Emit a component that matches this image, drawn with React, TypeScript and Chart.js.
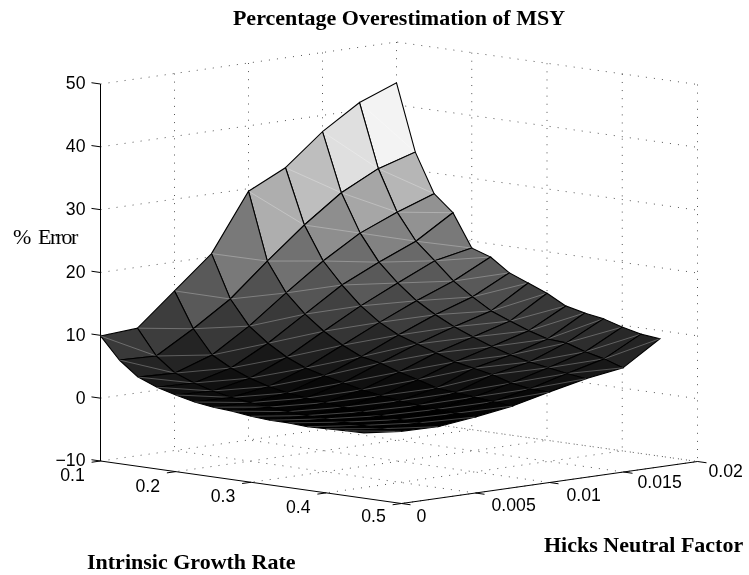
import React, { useEffect, useRef } from "react";
import { Chart, registerables } from "chart.js";

Chart.register(...registerables);

// Surface samples
const growthRates = [0.1, 0.125, 0.15, 0.175, 0.2, 0.225, 0.25, 0.275, 0.3, 0.325, 0.35, 0.375, 0.4, 0.425, 0.45];
const hicksFactors = [0, 0.0025, 0.005, 0.0075, 0.01, 0.0125, 0.015, 0.0175, 0.02];
const errorPct = [
  [9.9, 10.3, 15.4, 20.5, 29.6, 32.5, 37.4, 41.2, 43.5],
  [6.5, 6.3, 9.8, 13.7, 18.9, 23.8, 28.1, 31.1, 32.9],
  [4.2, 4.0, 6.05, 9.8, 14.25, 18.5, 22.1, 24.6, 26.7],
  [3.0, 2.85, 4.4, 7.5, 11.3, 15.1, 17.9, 20.4, 24.1],
  [2.2, 2.0, 3.2, 5.7, 9.0, 12.2, 15.0, 17.7, 18.9],
  [1.5, 1.4, 2.3, 4.4, 7.2, 10.0, 12.6, 14.9, 17.9],
  [1.1, 1.0, 1.7, 3.6, 5.8, 8.4, 10.8, 12.8, 15.8],
  [0.9, 0.7, 1.3, 2.9, 5.2, 7.4, 9.3, 11.0, 14.6],
  [0.5, 0.4, 1.0, 2.2, 4.2, 6.4, 8.1, 9.8, 13.4],
  [0.3, 0.2, 0.7, 1.7, 3.4, 5.4, 7.0, 8.7, 11.8],
  [0.3, 0.1, 0.4, 1.3, 2.5, 4.8, 6.1, 7.8, 11.1],
  [0.1, 0.0, 0.2, 1.0, 2.2, 4.2, 5.4, 7.6, 10.6],
  [0.2, -0.1, 0.0, 0.8, 1.9, 3.3, 4.9, 6.6, 9.7],
  [0.3, -0.2, -0.1, 0.6, 1.6, 2.8, 4.4, 5.9, 9.0],
  [0.4, -0.2, -0.3, 0.4, 1.3, 2.7, 4.0, 4.9, 8.7],
];

// Axis ticks
const growthTicks = [0.1, 0.2, 0.3, 0.4, 0.5];
const hicksTicks = [0, 0.005, 0.01, 0.015, 0.02];
const errorTicks = [-10, 0, 10, 20, 30, 40, 50];
const growthTickLabels = ["0.1", "0.2", "0.3", "0.4", "0.5"];
const hicksTickLabels = ["0", "0.005", "0.01", "0.015", "0.02"];
const errorTickLabels = ["\u221210", "0", "10", "20", "30", "40", "50"];

const titleText = "Percentage Overestimation of MSY";
const zLabel = "% Error";
const growthLabel = "Intrinsic Growth Rate";
const hicksLabel = "Hicks Neutral Factor";

// Orthographic view of the 3D box, expressed in canvas-sized scale units
const project = (r: number, h: number, z: number) => {
  const u = (r - 0.1) / 0.4;
  const v = h / 0.02;
  const w = (z + 10) / 60;
  return { x: 100.5 + 301 * u + 296 * v, y: 461 + 42.5 * u - 42 * v - 377 * w };
};

const polyline = (points: { x: number; y: number }[], style: Record<string, unknown>) => ({
  type: "scatter",
  showLine: true,
  data: points,
  pointRadius: 0,
  pointHoverRadius: 0,
  tension: 0,
  fill: false,
  ...style,
});

const dotted = { borderColor: "rgba(0,0,0,0.85)", borderWidth: 0.8, borderDash: [1, 7.1] };
const solid = { borderColor: "#000", borderWidth: 1 };

function buildDatasets() {
  const out: any[] = [];
  const rMin = growthTicks[0];
  const rMax = growthTicks[growthTicks.length - 1];
  const hMin = hicksTicks[0];
  const hMax = hicksTicks[hicksTicks.length - 1];
  const zMin = errorTicks[0];
  const zMax = errorTicks[errorTicks.length - 1];

  // wall and floor grid
  errorTicks.forEach((z) => {
    out.push(polyline([project(rMin, hMin, z), project(rMin, hMax, z), project(rMax, hMax, z)], dotted));
  });
  hicksTicks.slice(1).forEach((h) => {
    out.push(polyline([project(rMin, h, zMax), project(rMin, h, zMin), project(rMax, h, zMin)], dotted));
  });
  growthTicks.slice(1).forEach((r) => {
    out.push(polyline([project(r, hMax, zMax), project(r, hMax, zMin), project(r, hMin, zMin)], dotted));
  });

  // axes and ticks
  out.push(polyline([project(rMin, hMin, zMax), project(rMin, hMin, zMin)], solid));
  out.push(polyline([project(rMin, hMin, zMin), project(rMax, hMin, zMin), project(rMax, hMax, zMin)], solid));
  errorTicks.forEach((z) => {
    out.push(polyline([project(rMin, hMin, z), project(rMin - 0.012, hMin, z)], solid));
  });
  growthTicks.forEach((r) => {
    out.push(polyline([project(r, hMin, zMin), project(r, hMin - 0.0006, zMin)], solid));
  });
  hicksTicks.forEach((h) => {
    out.push(polyline([project(rMax, h, zMin), project(rMax + 0.012, h, zMin)], solid));
  });

  // surface, far cells first
  const all = errorPct.flat();
  const lo = Math.min(...all);
  const hi = Math.max(...all);
  for (let i = 0; i < growthRates.length - 1; i++) {
    for (let j = hicksFactors.length - 2; j >= 0; j--) {
      const p = (a: number, b: number) => project(growthRates[a], hicksFactors[b], errorPct[a][b]);
      const level = Math.min(63, Math.floor(((errorPct[i][j] - lo) / (hi - lo)) * 64));
      const g = Math.round((level / 63) * 255);
      const c = `rgb(${g},${g},${g})`;
      const a = p(i, j);
      out.push(
        polyline([a, p(i + 1, j), p(i + 1, j + 1), p(i, j + 1), a], {
          borderColor: "#000",
          borderWidth: 1.1,
          backgroundColor: c,
          fill: "shape",
        })
      );
      out.push(
        polyline([a, p(i + 1, j + 1)], {
          borderColor: "rgba(255,255,255,0.45)",
          borderWidth: 0.6,
        })
      );
    }
  }
  return out.reverse();
}

const growthLabelOffsets = [
  [-28, 15],
  [-28, 15],
  [-28, 15],
  [-28, 15],
  [-28, 14],
];
const hicksLabelOffsets = [
  [15, 13.5],
  [16, 13],
  [17, 13.5],
  [14, 11],
  [11, 10.5],
];

const textPlugin = {
  id: "boxText",
  afterDraw(chart: any) {
    const { ctx, scales } = chart;
    const X = (v: number) => scales.x.getPixelForValue(v);
    const Y = (v: number) => scales.y.getPixelForValue(v);
    const put = (s: string, x: number, y: number, font: string, align: CanvasTextAlign = "center", spacing = "0px") => {
      ctx.save();
      ctx.font = font;
      ctx.fillStyle = "#000";
      ctx.textAlign = align;
      ctx.textBaseline = "middle";
      (ctx as any).letterSpacing = spacing;
      ctx.fillText(s, X(x), Y(y));
      ctx.restore();
    };
    const sans = "17.7px 'Liberation Sans'";
    const boldSerif = "bold 22px 'Liberation Serif'";
    const serif = "22px 'Liberation Serif'";
    put(titleText, 399, 19.5, boldSerif);
    errorTicks.forEach((z, k) => {
      const p = project(0.1, 0, z);
      put(errorTickLabels[k], p.x - 15, p.y + 0.5, sans, "right");
    });
    growthTicks.forEach((r, k) => {
      const p = project(r, 0, -10);
      put(growthTickLabels[k], p.x + growthLabelOffsets[k][0], p.y + growthLabelOffsets[k][1], sans);
    });
    hicksTicks.forEach((h, k) => {
      const p = project(0.5, h, -10);
      put(hicksTickLabels[k], p.x + hicksLabelOffsets[k][0], p.y + hicksLabelOffsets[k][1], sans, "left");
    });
    put(zLabel.slice(0, 1), 13, 238, serif, "left");
    put(zLabel.slice(2), 38, 238, serif, "left", "-1.5px");
    put(growthLabel, 87, 563, boldSerif, "left");
    put(hicksLabel, 544, 546, boldSerif, "left");
  },
};

export default function App() {
  const ref = useRef<HTMLCanvasElement>(null);
  useEffect(() => {
    document.body.style.margin = "0";
    const chart = new Chart(ref.current as HTMLCanvasElement, {
      type: "scatter",
      data: { datasets: buildDatasets() },
      options: {
        animation: false,
        responsive: false,
        events: [],
        layout: { padding: 0 },
        plugins: { legend: { display: false }, tooltip: { enabled: false }, title: { display: false } },
        scales: {
          x: { type: "linear", display: false, min: 0, max: 749 },
          y: { type: "linear", display: false, min: 0, max: 575, reverse: true },
        },
      },
      plugins: [textPlugin],
    } as any);
    return () => chart.destroy();
  }, []);
  return <canvas ref={ref} width={749} height={575} style={{ display: "block", background: "#fff" }} />;
}
